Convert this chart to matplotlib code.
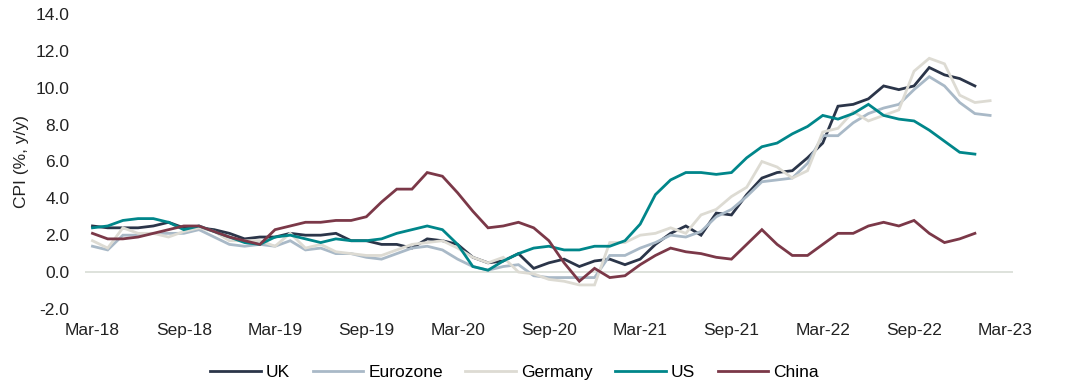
import numpy as np
import pandas as pd
import matplotlib
matplotlib.use("Agg")
from matplotlib import pyplot as plt

plt.rcParams['font.family'] = ['Liberation Sans', 'DejaVu Sans']

# monthly y/y CPI, starting Mar-18
uk = [2.5, 2.4, 2.4, 2.4, 2.5, 2.7, 2.4, 2.4, 2.3, 2.1,
      1.8, 1.9, 1.9, 2.1, 2.0, 2.0, 2.1, 1.7, 1.7, 1.5, 1.5, 1.3,
      1.8, 1.7, 1.5, 0.8, 0.5, 0.6, 1.0, 0.2, 0.5, 0.7, 0.3, 0.6,
      0.7, 0.4, 0.7, 1.5, 2.1, 2.5, 2.0, 3.2, 3.1, 4.2, 5.1, 5.4,
      5.5, 6.2, 7.0, 9.0, 9.1, 9.4, 10.1, 9.9, 10.1, 11.1, 10.7, 10.5,
      10.1]
eurozone = [1.4, 1.2, 2.0, 2.0, 2.1, 2.1, 2.1, 2.3, 1.9, 1.5,
            1.4, 1.5, 1.4, 1.7, 1.2, 1.3, 1.0, 1.0, 0.8, 0.7, 1.0, 1.3,
            1.4, 1.2, 0.7, 0.3, 0.1, 0.3, 0.4, -0.2, -0.3, -0.3, -0.3, -0.3,
            0.9, 0.9, 1.3, 1.6, 2.0, 1.9, 2.2, 3.0, 3.4, 4.1, 4.9, 5.0,
            5.1, 5.9, 7.4, 7.4, 8.1, 8.6, 8.9, 9.1, 9.9, 10.6, 10.1, 9.2,
            8.6, 8.5]
germany = [1.7, 1.3, 2.4, 2.1, 2.1, 1.9, 2.2, 2.4, 2.2, 1.7,
           1.7, 1.7, 1.4, 2.1, 1.3, 1.5, 1.1, 1.0, 0.9, 0.9, 1.2, 1.5,
           1.6, 1.7, 1.3, 0.8, 0.5, 0.8, 0.0, -0.1, -0.4, -0.5, -0.7, -0.7,
           1.6, 1.6, 2.0, 2.1, 2.4, 2.1, 3.1, 3.4, 4.1, 4.6, 6.0, 5.7,
           5.1, 5.5, 7.6, 7.8, 8.7, 8.2, 8.5, 8.8, 10.9, 11.6, 11.3, 9.6,
           9.2, 9.3]
us = [2.4, 2.5, 2.8, 2.9, 2.9, 2.7, 2.3, 2.5, 2.2, 1.9,
      1.6, 1.5, 1.9, 2.0, 1.8, 1.6, 1.8, 1.7, 1.7, 1.8, 2.1, 2.3,
      2.5, 2.3, 1.5, 0.3, 0.1, 0.6, 1.0, 1.3, 1.4, 1.2, 1.2, 1.4,
      1.4, 1.7, 2.6, 4.2, 5.0, 5.4, 5.4, 5.3, 5.4, 6.2, 6.8, 7.0,
      7.5, 7.9, 8.5, 8.3, 8.6, 9.1, 8.5, 8.3, 8.2, 7.7, 7.1, 6.5,
      6.4]
china = [2.1, 1.8, 1.8, 1.9, 2.1, 2.3, 2.5, 2.5, 2.2, 1.9,
         1.7, 1.5, 2.3, 2.5, 2.7, 2.7, 2.8, 2.8, 3.0, 3.8, 4.5, 4.5,
         5.4, 5.2, 4.3, 3.3, 2.4, 2.5, 2.7, 2.4, 1.7, 0.5, -0.5, 0.2,
         -0.3, -0.2, 0.4, 0.9, 1.3, 1.1, 1.0, 0.8, 0.7, 1.5, 2.3, 1.5,
         0.9, 0.9, 1.5, 2.1, 2.1, 2.5, 2.7, 2.5, 2.8, 2.1, 1.6, 1.8,
         2.1]

series = [("UK", uk, "#2b3549"),
          ("Eurozone", eurozone, "#a9b9c7"),
          ("Germany", germany, "#dddbd3"),
          ("US", us, "#00868a"),
          ("China", china, "#7b3848")]

months = pd.date_range("2018-03-01", "2023-03-01", freq="MS")
tick_idx = np.arange(0, len(months), 6)
tick_labels = [months[i].strftime("%b-%y") for i in tick_idx]

fs = 12.5
fig = plt.figure(figsize=(10.88, 3.91), dpi=100)
ax = fig.add_axes([0.078, 0.21, 0.853, 0.754])

for name, vals, col in series:
    ax.plot(np.arange(len(vals)), vals, color=col, lw=2.0, label=name,
            solid_joinstyle="miter")

ax.axhline(0, color="#d8ddd6", lw=1.2, zorder=0)
ax.set_xlim(-0.5, 60.5)
ax.set_ylim(-2, 14)
ax.set_yticks(np.arange(-2, 15, 2))
ax.set_yticklabels([f"{v:.1f}" for v in np.arange(-2, 15, 2)])
ax.set_xticks(tick_idx)
ax.set_xticklabels(tick_labels)
ax.tick_params(length=0, labelsize=fs, colors="#222222")
ax.tick_params(axis="y", pad=11)
ax.tick_params(axis="x", pad=10)
for s in ax.spines.values():
    s.set_visible(False)
ax.set_ylabel("CPI (%, y/y)", fontsize=fs, color="#222222", labelpad=5)

fig.legend(loc="center", bbox_to_anchor=(0.473, 0.048), ncol=5, frameon=False,
           fontsize=fs, handlelength=2.9, handletextpad=0.3,
           columnspacing=1.3)

fig.savefig("out.png", dpi=100)
